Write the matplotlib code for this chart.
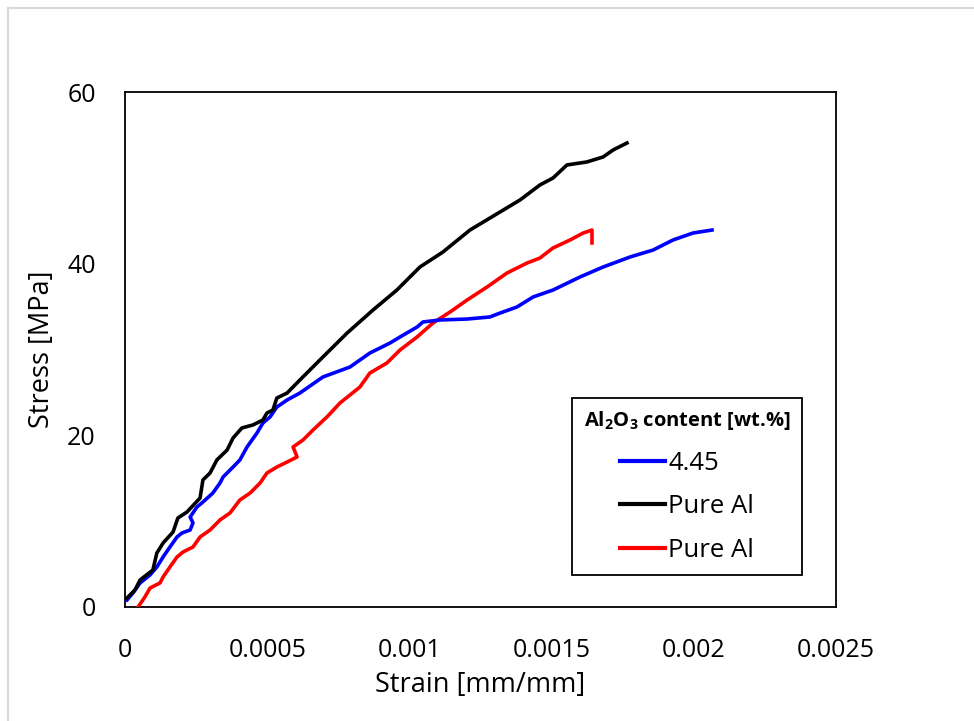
import matplotlib
matplotlib.use("Agg")
import matplotlib.pyplot as plt
from matplotlib.lines import Line2D

plt.rcParams['font.family'] = ['Open Sans', 'DejaVu Sans']
plt.rcParams['mathtext.fontset'] = 'custom'
plt.rcParams['mathtext.rm'] = 'Open Sans'
plt.rcParams['mathtext.bf'] = 'Open Sans:bold'

# Series: Pure Al (black)
black_strain = [0.000007, 0.000035, 0.000053, 0.000098, 0.000112, 0.000134, 0.000169, 0.000186,
                0.000218, 0.000264, 0.000274, 0.000299, 0.000323, 0.000359, 0.000380, 0.000411,
                0.000450, 0.000485, 0.000499, 0.000520, 0.000534, 0.000570, 0.000615, 0.000696,
                0.000781, 0.000872, 0.000956, 0.001037, 0.001118, 0.001213, 0.001301, 0.001389,
                0.001459, 0.001505, 0.001554, 0.001624, 0.001681, 0.001716, 0.001765]
black_stress = [1.05, 1.98, 3.15, 4.31, 6.29, 7.46, 8.74, 10.37,
                11.07, 12.70, 14.80, 15.61, 17.13, 18.29, 19.69, 20.86,
                21.21, 21.79, 22.60, 22.95, 24.35, 24.93, 26.45, 29.13,
                31.92, 34.60, 36.93, 39.61, 41.36, 43.92, 45.67, 47.42,
                49.17, 49.98, 51.50, 51.85, 52.43, 53.24, 54.06]

# Series: 4.45 wt.% (blue)
blue_strain = [0.000007, 0.000028, 0.000053, 0.000088, 0.000112, 0.000134, 0.000158, 0.000183,
               0.000200, 0.000229, 0.000239, 0.000229, 0.000253, 0.000274, 0.000309, 0.000334,
               0.000345, 0.000380, 0.000404, 0.000429, 0.000464, 0.000485, 0.000510, 0.000534,
               0.000570, 0.000615, 0.000696, 0.000791, 0.000861, 0.000932, 0.000967, 0.001027,
               0.001048, 0.001108, 0.001203, 0.001283, 0.001319, 0.001378, 0.001435, 0.001505,
               0.001600, 0.001681, 0.001776, 0.001857, 0.001927, 0.001997, 0.002064]
blue_stress = [0.82, 1.63, 2.80, 3.73, 4.66, 5.83, 6.99, 8.16,
               8.62, 8.97, 9.79, 10.49, 11.65, 12.23, 13.28, 14.45,
               15.15, 16.31, 17.13, 18.64, 20.27, 21.44, 22.14, 23.30,
               24.12, 24.93, 26.80, 27.96, 29.59, 30.76, 31.46, 32.62,
               33.21, 33.44, 33.55, 33.79, 34.25, 34.95, 36.12, 36.93,
               38.45, 39.61, 40.78, 41.59, 42.76, 43.57, 43.92]

# Series: Pure Al (red)
red_strain = [0.000046, 0.000070, 0.000088, 0.000123, 0.000134, 0.000158, 0.000183, 0.000204,
              0.000239, 0.000264, 0.000299, 0.000334, 0.000369, 0.000404, 0.000440, 0.000475,
              0.000499, 0.000534, 0.000570, 0.000605, 0.000591, 0.000626, 0.000661, 0.000710,
              0.000756, 0.000826, 0.000861, 0.000921, 0.000967, 0.001027, 0.001083, 0.001143,
              0.001203, 0.001273, 0.001343, 0.001414, 0.001459, 0.001505, 0.001565, 0.001611,
              0.001642, 0.001642]
red_stress = [0.0, 1.17, 2.21, 2.80, 3.50, 4.66, 5.83, 6.41,
              6.99, 8.16, 8.97, 10.14, 10.95, 12.47, 13.28, 14.45,
              15.61, 16.31, 16.89, 17.48, 18.64, 19.46, 20.62, 22.14,
              23.77, 25.63, 27.26, 28.43, 29.94, 31.46, 33.09, 34.37,
              35.77, 37.28, 38.91, 40.08, 40.66, 41.83, 42.76, 43.57,
              43.92, 42.41]

labels = ["4.45", "Pure Al", "Pure Al"]
x_ticks = [0, 0.0005, 0.001, 0.0015, 0.002, 0.0025]
x_tick_labels = ["0", "0.0005", "0.001", "0.0015", "0.002", "0.0025"]
y_ticks = [0, 20, 40, 60]

fig = plt.figure(figsize=(9.74, 7.21), dpi=100)
ax = fig.add_axes([125/974, 1 - 607/721, 711/974, 515/721])

lw = 2.6
ax.plot(red_strain, red_stress, color='#ff0000', lw=lw, solid_joinstyle='round', zorder=3)
ax.plot(blue_strain, blue_stress, color='#0000ff', lw=lw, solid_joinstyle='round', zorder=4)
ax.plot(black_strain, black_stress, color='#000000', lw=lw, solid_joinstyle='round', zorder=5)

ax.set_xlim(0, 0.0025)
ax.set_ylim(0, 60)
ax.set_xticks(x_ticks)
ax.set_xticklabels(x_tick_labels)
ax.set_yticks(y_ticks)
ax.tick_params(length=0, labelsize=18, colors='black')
ax.tick_params(axis='x', pad=22)
ax.tick_params(axis='y', pad=21)
for s in ax.spines.values():
    s.set_linewidth(1.3)
    s.set_color('black')

ax.set_xlabel("Strain [mm/mm]", fontsize=19.5, labelpad=6)
ax.set_ylabel("Stress [MPa]", fontsize=19.5, labelpad=8)

handles = [Line2D([0], [0], color=c, lw=3) for c in ['#0000ff', '#000000', '#ff0000']]
leg = ax.legend(handles, labels, title=r"Al$_\mathbf{2}$O$_\mathbf{3}$ content [wt.%]",
                loc='upper left', bbox_to_anchor=(0.629, 0.406), fontsize=18.5,
                title_fontproperties={'weight': 'bold', 'size': 14.5},
                frameon=True, fancybox=False, edgecolor='black', framealpha=1,
                handlelength=1.75, handletextpad=0.12, labelspacing=0.72,
                borderpad=0.45, borderaxespad=0)
leg.get_frame().set_linewidth(1.3)
leg._legend_box.align = "center"

# Figure border (light gray)
fig.add_artist(Line2D([7.5/974, 7.5/974], [0, 1 - 7.5/721], transform=fig.transFigure,
                      color='#d9d9d9', lw=1.5))
fig.add_artist(Line2D([7.5/974, 1], [1 - 7.5/721, 1 - 7.5/721], transform=fig.transFigure,
                      color='#d9d9d9', lw=1.5))

fig.savefig("out.png", dpi=100)
